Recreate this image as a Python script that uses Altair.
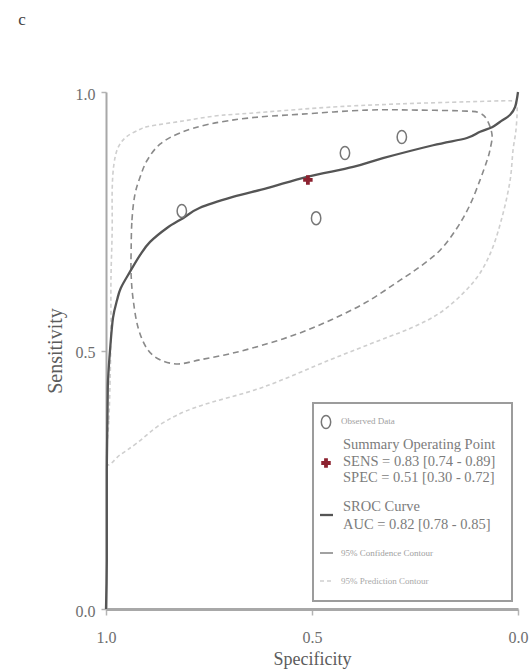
import altair as alt
import pandas as pd

# Individual studies (specificity, sensitivity)
obs_spec = [0.816, 0.490, 0.420, 0.282]
obs_sens = [0.770, 0.756, 0.882, 0.913]

# Summary operating point
summary_spec = [0.51]
summary_sens = [0.83]

# SROC curve
sroc_spec = [1.000, 0.998, 0.998, 0.996, 0.995, 0.990, 0.983, 0.973, 0.964, 0.942,
             0.917, 0.893, 0.852, 0.813, 0.772, 0.692, 0.609, 0.512, 0.400, 0.328,
             0.206, 0.124, 0.092, 0.063, 0.044, 0.019, 0.007, 0.000]
sroc_sens = [0.000, 0.095, 0.269, 0.404, 0.443, 0.503, 0.563, 0.598, 0.621, 0.652,
             0.685, 0.710, 0.737, 0.756, 0.776, 0.797, 0.814, 0.836, 0.855, 0.872,
             0.897, 0.911, 0.923, 0.932, 0.942, 0.956, 0.971, 1.000]

# 95% confidence contour
conf_spec = [0.939, 0.937, 0.930, 0.917, 0.900, 0.869, 0.820, 0.748, 0.650, 0.529,
             0.367, 0.245, 0.124, 0.092, 0.075, 0.063, 0.068, 0.075, 0.092, 0.117,
             0.148, 0.189, 0.238, 0.286, 0.367, 0.449, 0.529, 0.609, 0.692, 0.772,
             0.825, 0.869, 0.900, 0.922, 0.934, 0.939]
conf_sens = [0.694, 0.752, 0.801, 0.836, 0.868, 0.899, 0.921, 0.938, 0.950, 0.957,
             0.965, 0.965, 0.963, 0.959, 0.946, 0.917, 0.888, 0.868, 0.830, 0.781,
             0.737, 0.694, 0.662, 0.636, 0.594, 0.561, 0.534, 0.513, 0.495, 0.482,
             0.474, 0.482, 0.503, 0.544, 0.598, 0.646]

# 95% prediction contour
pred_spec = [0.998, 0.993, 0.990, 0.988, 0.988, 0.985, 0.985, 0.981, 0.971, 0.951,
             0.917, 0.893, 0.813, 0.731, 0.650, 0.449, 0.286, 0.124, 0.019, 0.005,
             0.002, 0.005, 0.012, 0.019, 0.036, 0.061, 0.092, 0.133, 0.189, 0.255,
             0.335, 0.456, 0.619, 0.779, 0.862, 0.925, 0.966]
pred_sens = [0.282, 0.366, 0.443, 0.540, 0.636, 0.733, 0.810, 0.859, 0.892, 0.913,
             0.928, 0.934, 0.944, 0.954, 0.959, 0.971, 0.977, 0.981, 0.983, 0.979,
             0.965, 0.926, 0.888, 0.830, 0.766, 0.700, 0.650, 0.611, 0.573, 0.545,
             0.520, 0.482, 0.429, 0.391, 0.360, 0.321, 0.298]

legend_lines = {
    "obs": ["Observed Data"],
    "summary": ["Summary Operating Point",
                "SENS = 0.83 [0.74 - 0.89]",
                "SPEC = 0.51 [0.30 - 0.72]"],
    "sroc": ["SROC Curve", "AUC = 0.82 [0.78 - 0.85]"],
    "conf": ["95% Confidence Contour"],
    "pred": ["95% Prediction Contour"],
}

SERIF = "Liberation Serif"
W, H = 412, 517

obs_df = pd.DataFrame({"spec": obs_spec, "sens": obs_sens})
sum_df = pd.DataFrame({"spec": summary_spec, "sens": summary_sens})
sroc_df = pd.DataFrame({"spec": sroc_spec, "sens": sroc_sens, "idx": range(len(sroc_spec))})
conf_df = pd.DataFrame({"spec": conf_spec, "sens": conf_sens, "idx": range(len(conf_spec))})
pred_df = pd.DataFrame({"spec": pred_spec, "sens": pred_sens, "idx": range(len(pred_spec))})

x_scale = alt.Scale(domain=[1, 0], nice=False, zero=False)
y_scale = alt.Scale(domain=[0, 1], nice=False, zero=False)

x_axis = alt.Axis(
    values=[1.0, 0.5, 0.0], format=".1f", grid=False,
    labelFont=SERIF, labelFontSize=16, labelColor="#6e6e6e",
    labelBaseline="middle", labelPadding=22, labelFlush=False,
    tickSize=6, tickColor="#b4b4b4", tickWidth=1.5,
    domainColor="#a8a8a8", domainWidth=3,
    title="Specificity", titleFont=SERIF, titleFontSize=18,
    titleFontWeight="normal", titleColor="#5c5c5c",
    titleX=W / 2, titleY=50, titleAlign="center", titleBaseline="middle",
)
y_axis = alt.Axis(
    values=[0.0, 0.5, 1.0], format=".1f", grid=False,
    labelFont=SERIF, labelFontSize=16, labelColor="#6e6e6e",
    labelPadding=6, labelOffset=2, labelFlush=False,
    tickSize=5, tickColor="#b4b4b4", tickWidth=1.5,
    domainColor="#a8a8a8", domainWidth=2,
    title="Sensitivity", titleFont=SERIF, titleFontSize=20,
    titleFontWeight="normal", titleColor="#5c5c5c",
    titleX=-51, titleY=H / 2, titleAlign="center", titleBaseline="middle",
)

X = alt.X("spec:Q", scale=x_scale, axis=x_axis, title="Specificity")
Y = alt.Y("sens:Q", scale=y_scale, axis=y_axis, title="Sensitivity")

pred_line = alt.Chart(pred_df).mark_line(
    color="#cfcfcf", strokeWidth=1.6, strokeDash=[4, 3], interpolate="cardinal-closed"
).encode(x=X, y=Y, order=alt.Order("idx:Q"))

conf_line = alt.Chart(conf_df).mark_line(
    color="#8a8a8a", strokeWidth=1.6, strokeDash=[6, 4], interpolate="cardinal-closed"
).encode(x=X, y=Y, order=alt.Order("idx:Q"))

sroc_line = alt.Chart(sroc_df).mark_line(
    color="#555555", strokeWidth=2.3, interpolate="cardinal"
).encode(x=X, y=Y, order=alt.Order("idx:Q"))

ellipse = "M0,-1A0.72,1,0,1,1,0,1A0.72,1,0,1,1,0,-1Z"
obs_pts = alt.Chart(obs_df).mark_point(
    shape=ellipse, size=169, filled=False, stroke="#777777", strokeWidth=1.5, opacity=1
).encode(x=X, y=Y)

sum_pt = alt.Chart(sum_df).mark_point(
    shape="cross", size=90, filled=True, color="#8c2230", opacity=1
).encode(x=X, y=Y)

# Panel letter
one = pd.DataFrame({"k": [0]})
panel = alt.Chart(one).mark_text(
    text="c", font=SERIF, fontSize=17, color="#444444", align="center", baseline="middle"
).encode(x=alt.value(-84), y=alt.value(-72))

# Legend box and entries (pixel layout inside the plot area)
box = alt.Chart(one).mark_rect(fill="white", stroke="#9c9c9c", strokeWidth=2).encode(
    x=alt.value(207), x2=alt.value(406), y=alt.value(311), y2=alt.value(509)
)

leg_obs = alt.Chart(one).mark_point(
    shape=ellipse, size=169, filled=False, stroke="#777777", strokeWidth=1.5, opacity=1
).encode(x=alt.value(220), y=alt.value(330))
leg_sum = alt.Chart(one).mark_point(
    shape="cross", size=90, filled=True, color="#8c2230", opacity=1
).encode(x=alt.value(220), y=alt.value(371))
leg_sroc = alt.Chart(one).mark_rule(color="#555555", strokeWidth=2.3).encode(
    x=alt.value(214), x2=alt.value(227), y=alt.value(423)
)
leg_conf = alt.Chart(one).mark_rule(color="#8a8a8a", strokeWidth=1.6).encode(
    x=alt.value(214), x2=alt.value(227), y=alt.value(461)
)
leg_pred = alt.Chart(one).mark_rule(color="#cfcfcf", strokeWidth=1.6, strokeDash=[4, 3]).encode(
    x=alt.value(214), x2=alt.value(227), y=alt.value(489)
)

def leg_text(lines, x, y, size, color, line_h):
    return alt.Chart(one).mark_text(
        text=lines, font=SERIF, fontSize=size, color=color,
        align="left", baseline="middle", lineHeight=line_h
    ).encode(x=alt.value(x), y=alt.value(y))

t_obs = leg_text(legend_lines["obs"], 235, 329, 9, "#a0a0a0", 10)
t_sum = leg_text(legend_lines["summary"], 237, 353, 14.5, "#7c7c7c", 16.5)
t_sroc = leg_text(legend_lines["sroc"], 237, 415, 14.5, "#7c7c7c", 18)
t_conf = leg_text(legend_lines["conf"], 235, 461, 9, "#a0a0a0", 10)
t_pred = leg_text(legend_lines["pred"], 235, 489, 9, "#a8a8a8", 10)

chart = alt.layer(
    pred_line, conf_line, sroc_line, obs_pts, sum_pt, panel,
    box, leg_obs, leg_sum, leg_sroc, leg_conf, leg_pred,
    t_obs, t_sum, t_sroc, t_conf, t_pred,
).properties(
    width=W, height=H,
    autosize=alt.AutoSizeParams(type="none"),
    padding={"left": 106, "top": 92, "right": 12, "bottom": 62},
    background="white",
).configure_view(stroke=None)

chart.save("out.html", embed_options={"renderer": "svg", "actions": False})
